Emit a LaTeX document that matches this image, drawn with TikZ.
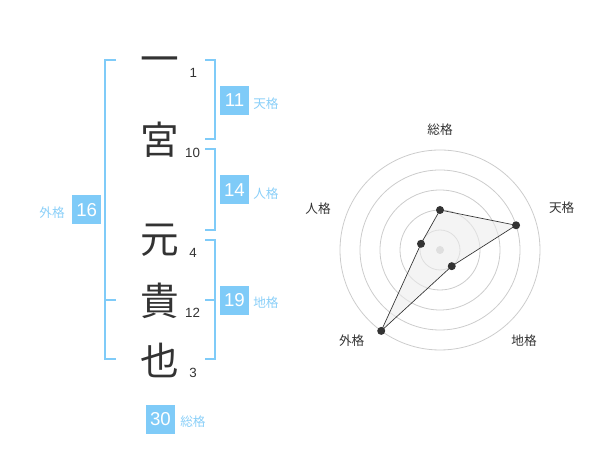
\documentclass[tikz,border=0pt]{standalone}
\usepackage{fontspec}
\setmainfont{Liberation Sans}
\newfontfamily\jpfont{Noto Sans CJK JP}
\definecolor{skyblue}{HTML}{7FCBF8}
\definecolor{tagblue}{HTML}{8ACFF8}
\definecolor{ink}{HTML}{333333}
\definecolor{ring}{HTML}{CCCCCC}
\begin{document}
\begin{tikzpicture}[x=0.75pt,y=0.75pt,
            kanji/.style={text=ink, font=\jpfont\fontsize{29}{29}\selectfont, inner sep=0pt},
            strokes/.style={text=ink, font=\fontsize{10}{10}\selectfont, inner sep=0pt},
            score/.style={rectangle, fill=skyblue, text=white, minimum width=21.75pt, minimum height=21.75pt, inner sep=0pt, font=\fontsize{14}{14}\selectfont},
            tag/.style={text=tagblue, font=\jpfont\fontsize{9.5}{9.5}\selectfont, inner sep=0pt},
            axis/.style={text=ink, font=\jpfont\fontsize{9.5}{9.5}\selectfont, inner sep=0pt},
            brk/.style={draw=skyblue, line width=1.5pt},
            dot/.style={circle, fill=ink, inner sep=0pt, minimum size=6pt},
        ]
            \useasboundingbox (0,0) rectangle (600,470);
            % name
            \node[kanji](kA) at (160,404.7) {一};
            \node[kanji](kB) at (160,330) {宮};
            \node[kanji](kC) at (160,230) {元};
            \node[kanji](kD) at (160,169) {貴};
            \node[kanji](kE) at (160,110) {也};
            \node[strokes](sA) at (193.3,396.7) {1};
            \node[strokes](sB) at (192.5,316.7) {10};
            \node[strokes](sC) at (193,217.3) {4};
            \node[strokes](sD) at (192.5,156.7) {12};
            \node[strokes](sE) at (193,96.7) {3};
            % brackets
            \draw[brk] (116,410) -- (105,410) -- (105,110.7) -- (116,110.7);
            \draw[brk] (105,170) -- (116,170);
            \draw[brk] (205,410) -- (215,410) -- (215,330.7) -- (205,330.7);
            \draw[brk] (205,320.7) -- (215,320.7) -- (215,240) -- (205,240);
            \draw[brk] (205,230) -- (215,230) -- (215,110.7) -- (205,110.7);
            \draw[brk] (205,170) -- (215,170);
            % scores
            \node[score](ten) at (234.5,369.5) {11};
            \node[tag, anchor=west] at (253,366) {天格};
            \node[score](jin) at (234.5,280) {14};
            \node[tag, anchor=west] at (253,276.5) {人格};
            \node[score](chi) at (234.5,169.5) {19};
            \node[tag, anchor=west] at (253,167) {地格};
            \node[score](gai) at (86.7,260) {16};
            \node[tag, anchor=east] at (65,257) {外格};
            \node[score](sou) at (160.5,50.5) {30};
            \node[tag, anchor=west] at (180,48.5) {総格};
            % radar
            \begin{scope}[shift={(440,220)}]
                \foreach \r in {15,30,45,60,75} \draw[ring, line width=0.6pt] (0,0) circle[radius=\r pt];
                \node[circle, fill=ring, inner sep=0pt, minimum size=6pt](ctr) at (0,0) {};
                \node[axis](aSou) at (0,120) {総格};
                \node[axis](aTen) at (121.7,42) {天格};
                \node[axis](aJin) at (-122,41) {人格};
                \node[axis](aGai) at (-88.3,-91) {外格};
                \node[axis](aChi) at (84,-91) {地格};
                \coordinate (pSou) at (90:40);
                \coordinate (pTen) at (18:80);
                \coordinate (pChi) at (-54:20);
                \coordinate (pGai) at (-126:100);
                \coordinate (pJin) at (162:20);
                \draw[ink, line width=0.5pt, fill=gray!15, fill opacity=0.6] (pSou) -- (pTen) -- (pChi) -- (pGai) -- (pJin) -- cycle;
                \foreach \p in {pSou,pTen,pChi,pGai,pJin} \node[dot] at (\p) {};
            \end{scope}
        \end{tikzpicture}
\end{document}
